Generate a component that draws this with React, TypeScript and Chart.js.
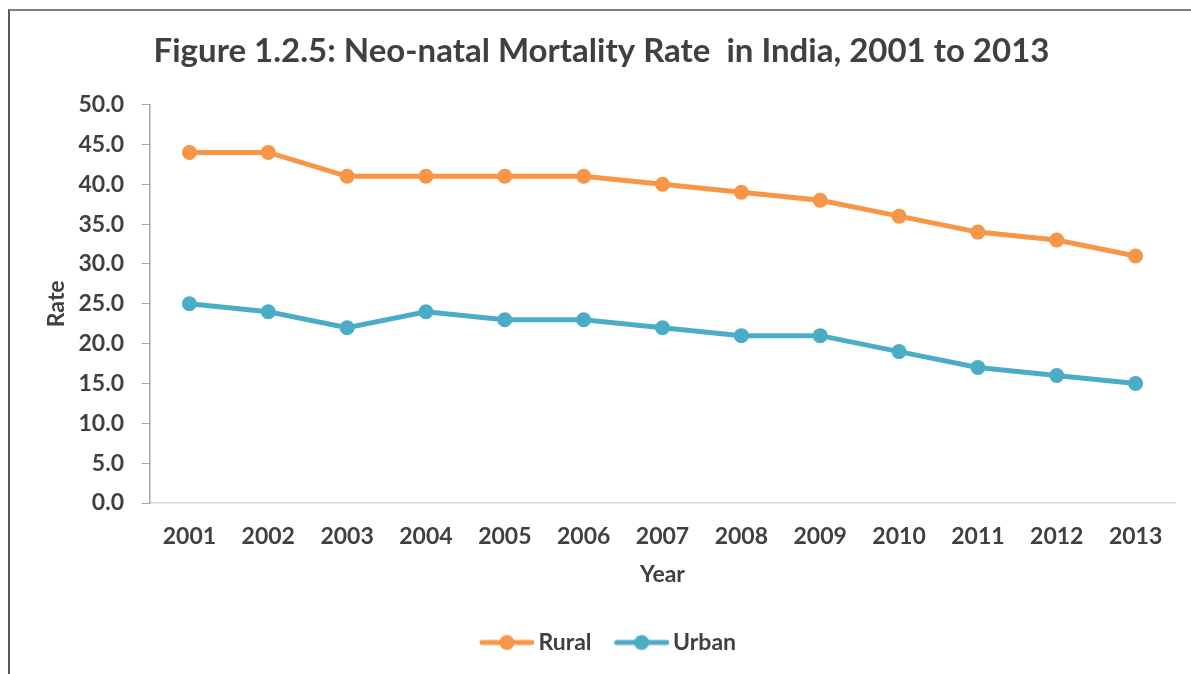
import React, { useEffect, useRef } from 'react';
import { Chart, registerables } from 'chart.js';

Chart.register(...registerables);

const years = ['2001', '2002', '2003', '2004', '2005', '2006', '2007', '2008', '2009', '2010', '2011', '2012', '2013'];
const rural = [44, 44, 41, 41, 41, 41, 40, 39, 38, 36, 34, 33, 31];
const urban = [25, 24, 22, 24, 23, 23, 22, 21, 21, 19, 17, 16, 15];
const yMin = 0;
const yMax = 50;
const yStep = 5;

const titleText = 'Figure 1.2.5: Neo-natal Mortality Rate  in India, 2001 to 2013';
const xTitle = 'Year';
const yTitle = 'Rate';
const seriesNames = ['Rural', 'Urban'];
const seriesColors = ['#F79646', '#4BACC6'];

const FONT = 'Lato';
const TEXT = '#404040';

function legendMarker(color: string): HTMLCanvasElement {
  const c = document.createElement('canvas');
  c.width = 74;
  c.height = 18;
  const ctx = c.getContext('2d')!;
  ctx.strokeStyle = color;
  ctx.lineWidth = 5;
  ctx.lineCap = 'round';
  ctx.beginPath();
  ctx.moveTo(22, 9);
  ctx.lineTo(72, 9);
  ctx.stroke();
  ctx.fillStyle = color;
  ctx.beginPath();
  ctx.arc(47, 9, 7.5, 0, Math.PI * 2);
  ctx.fill();
  return c;
}

export default function App() {
  const ref = useRef<HTMLCanvasElement>(null);

  useEffect(() => {
    if (!ref.current) return;
    const markers = seriesColors.map(legendMarker);
    const chart = new Chart(ref.current, {
      type: 'line',
      data: {
        labels: years,
        datasets: [rural, urban].map((d, i) => ({
          label: seriesNames[i],
          data: d,
          borderColor: seriesColors[i],
          backgroundColor: seriesColors[i],
          borderWidth: 5,
          pointRadius: 7.5,
          pointBorderWidth: 0,
          pointBackgroundColor: seriesColors[i],
          tension: 0,
          fill: false,
        })),
      },
      options: {
        animation: false,
        responsive: false,
        maintainAspectRatio: false,
        layout: { padding: { left: 28, right: 16, top: 0, bottom: 10 } },
        plugins: {
          title: {
            display: true,
            text: titleText,
            color: TEXT,
            font: { family: FONT, size: 33, weight: 'bold' },
            padding: { top: 32, bottom: 33 },
          },
          legend: {
            position: 'bottom',
            labels: {
              usePointStyle: true,
              pointStyleWidth: 60,
              padding: 10,
              color: TEXT,
              font: { family: FONT, size: 23, weight: 'bold' },
              generateLabels: (ch: any) => {
                const items = Chart.defaults.plugins.legend.labels.generateLabels(ch);
                return items.map((it: any, i: number) => ({ ...it, pointStyle: markers[i] }));
              },
            },
          },
          tooltip: { enabled: false },
        },
        scales: {
          x: {
            offset: true,
            afterFit: (s: any) => { s.height = 118; },
            grid: { display: false, offset: true },
            border: { display: true, color: '#D9D9D9', width: 1.5 },
            ticks: { color: TEXT, font: { family: FONT, size: 23, weight: 'bold' }, padding: 12, maxRotation: 0 },
            title: {
              display: true,
              text: xTitle,
              color: TEXT,
              font: { family: FONT, size: 23, weight: 'bold' },
              padding: { top: 4, bottom: 33 },
            },
          },
          y: {
            min: yMin,
            max: yMax,
            afterFit: (s: any) => { s.width = 122; },
            grid: { display: true, drawOnChartArea: false, drawTicks: true, tickLength: 8, color: '#A6A6A6' },
            border: { display: true, color: '#A6A6A6', width: 1.5 },
            ticks: {
              stepSize: yStep,
              color: TEXT,
              padding: 18,
              font: { family: FONT, size: 23, weight: 'bold' },
              callback: (v: any) => Number(v).toFixed(1),
            },
            title: {
              display: true,
              text: yTitle,
              color: TEXT,
              font: { family: FONT, size: 23, weight: 'bold' },
              padding: { top: 15, bottom: 4 },
            },
          },
        },
      },
    });
    return () => chart.destroy();
  }, []);

  return (
    <div style={{ position: 'fixed', left: 0, top: 0, width: 1191, height: 674, background: '#fff', overflow: 'hidden' }}>
      <canvas ref={ref} width={1191} height={674} style={{ position: 'absolute', left: 0, top: 0, width: 1191, height: 674 }} />
      <div
        style={{
          position: 'absolute',
          left: 8,
          top: 9,
          width: 1200,
          height: 700,
          borderLeft: '2px solid #595959',
          borderTop: '2px solid #808080',
          pointerEvents: 'none',
        }}
      />
    </div>
  );
}
